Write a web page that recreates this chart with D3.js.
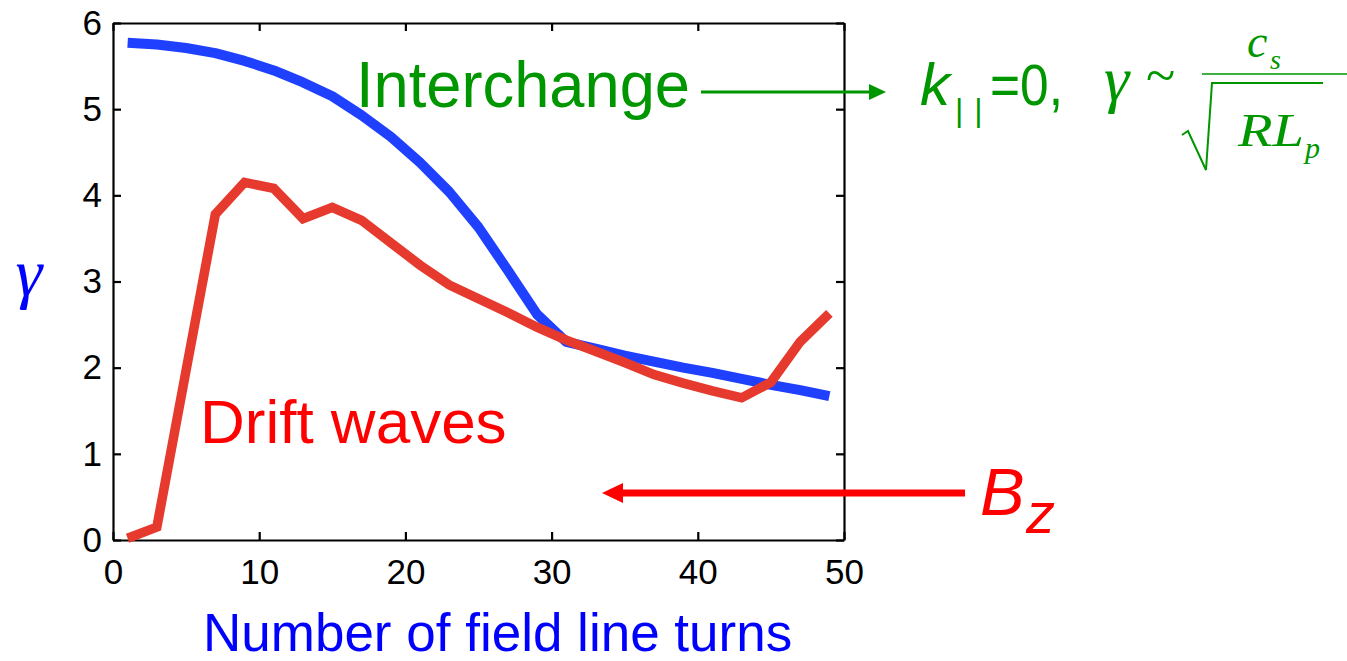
<!DOCTYPE html>
<html>
<head>
<meta charset="utf-8">
<script src="https://cdn.jsdelivr.net/npm/d3@7"></script>
<style>
  html, body { margin: 0; padding: 0; background: #ffffff; }
  svg { display: block; }
</style>
</head>
<body>
<svg id="chart" width="1347" height="661"></svg>
<script>
// ---- data ----
const turns = [1,3,5,7,9,11,13,15,17,19,21,23,25,27,29,31,33,35,37,39,41,43,45,47,49];
const interchangeGamma = [5.77,5.75,5.71,5.65,5.56,5.45,5.31,5.15,4.93,4.68,4.38,4.04,3.63,3.13,2.62,2.30,2.22,2.14,2.07,2.00,1.94,1.87,1.80,1.74,1.67];
const driftGamma = [0.02,0.15,1.97,3.78,4.15,4.08,3.73,3.86,3.71,3.45,3.19,2.96,2.80,2.64,2.47,2.32,2.19,2.06,1.92,1.82,1.73,1.65,1.83,2.30,2.63];
const xTicks = [0,10,20,30,40,50];
const yTicks = [0,1,2,3,4,5,6];

const svg = d3.select("#chart");
const x = d3.scaleLinear().domain([0,50]).range([113,844]);
const y = d3.scaleLinear().domain([0,6]).range([540,23]);

const sans = "'Liberation Sans', Arial, Helvetica, sans-serif";
const serif = "'Liberation Serif', 'Times New Roman', serif";
const green = "#009600";
const fmt = d3.format("d");

// ---- axes (box with inward ticks) ----
function styleAxis(g) {
  g.selectAll(".domain").attr("stroke", "#000").attr("stroke-width", 2.2);
  g.selectAll(".tick line").attr("stroke", "#000").attr("stroke-width", 2.2);
  g.selectAll(".tick text").attr("fill", "#000").style("font-family", sans).style("font-size", "35px");
}
svg.append("g").attr("transform", `translate(0,${y(0)})`)
  .call(d3.axisBottom(x).tickValues(xTicks).tickFormat(fmt).tickSizeInner(-8).tickSizeOuter(0).tickPadding(19))
  .call(styleAxis);
svg.append("g").attr("transform", `translate(0,${y(6)})`)
  .call(d3.axisTop(x).tickValues(xTicks).tickSizeInner(-8).tickSizeOuter(0).tickFormat(""))
  .call(styleAxis);
svg.append("g").attr("transform", `translate(${x(0)},0)`)
  .call(d3.axisLeft(y).tickValues(yTicks).tickFormat(fmt).tickSizeInner(-8).tickSizeOuter(0).tickPadding(11))
  .call(styleAxis);
svg.append("g").attr("transform", `translate(${x(50)},0)`)
  .call(d3.axisRight(y).tickValues(yTicks).tickSizeInner(-8).tickSizeOuter(0).tickFormat(""))
  .call(styleAxis);

// ---- lines ----
const line = (vals) => d3.line().x((d,i) => x(turns[i])).y(d => y(d))(vals);
svg.append("path").attr("d", line(interchangeGamma))
  .attr("fill", "none").attr("stroke", "#1f40ff").attr("stroke-width", 10)
  .attr("stroke-linejoin", "round");
svg.append("path").attr("d", line(driftGamma))
  .attr("fill", "none").attr("stroke", "#e53a2d").attr("stroke-width", 9.5)
  .attr("stroke-linejoin", "miter");

// ---- axis titles ----
svg.append("text").attr("x", 203).attr("y", 651)
  .style("font-family", sans).style("font-size", "53px").attr("fill", "#0000ff")
  .text("Number of field line turns");
svg.append("text").attr("x", 29).attr("y", 296).attr("text-anchor", "middle")
  .style("font-family", serif).style("font-style", "italic").style("font-size", "68px").attr("fill", "#0000ff")
  .text("γ");

// ---- annotations ----
svg.append("text").attr("x", 356).attr("y", 107)
  .attr("textLength", 334).attr("lengthAdjust", "spacingAndGlyphs")
  .style("font-family", sans).style("font-size", "64px").attr("fill", green)
  .text("Interchange");
svg.append("line").attr("x1", 701).attr("x2", 872).attr("y1", 92).attr("y2", 92)
  .attr("stroke", green).attr("stroke-width", 3);
svg.append("path").attr("d", "M886,92 L869,84 L869,100 Z").attr("fill", green);

svg.append("text").attr("x", 200).attr("y", 443)
  .style("font-family", sans).style("font-size", "62px").attr("fill", "#ff0000")
  .text("Drift waves");

svg.append("line").attr("x1", 965).attr("x2", 618).attr("y1", 493).attr("y2", 493)
  .attr("stroke", "#ff0000").attr("stroke-width", 7);
svg.append("path").attr("d", "M602,493 L623,483 L623,503 Z").attr("fill", "#ff0000");
svg.append("text").attr("x", 980).attr("y", 515)
  .style("font-family", sans).style("font-style", "italic").style("font-size", "67px").attr("fill", "#ff0000")
  .text("B");
svg.append("text").attr("x", 1026).attr("y", 533)
  .style("font-family", sans).style("font-style", "italic").style("font-size", "58px").attr("fill", "#ff0000")
  .text("z");

// formula: k|| = 0,  γ ~ c_s / sqrt(R L_p)
svg.append("text").attr("x", 920).attr("y", 105)
  .style("font-family", sans).style("font-style", "italic").style("font-size", "60px").attr("fill", green)
  .text("k");
svg.append("text").attr("x", 955).attr("y", 121)
  .style("font-family", sans).style("font-size", "32px").style("letter-spacing", "11px").attr("fill", green)
  .text("||");
svg.append("text").attr("x", 990).attr("y", 105)
  .attr("textLength", 73).attr("lengthAdjust", "spacingAndGlyphs")
  .style("font-family", sans).style("font-size", "58px").attr("fill", green)
  .text("=0,");
svg.append("text").attr("x", 1104).attr("y", 100)
  .style("font-family", serif).style("font-style", "italic").style("font-size", "64px").attr("fill", green)
  .text("γ");
svg.append("text").attr("x", 1146).attr("y", 94)
  .style("font-family", serif).style("font-size", "54px").attr("fill", green)
  .text("~");
svg.append("text").attr("x", 1247).attr("y", 57)
  .style("font-family", serif).style("font-style", "italic").style("font-size", "46px").attr("fill", green)
  .text("c");
svg.append("text").attr("x", 1270).attr("y", 69)
  .style("font-family", serif).style("font-style", "italic").style("font-size", "28px").attr("fill", green)
  .text("s");
svg.append("line").attr("x1", 1202).attr("x2", 1347).attr("y1", 74).attr("y2", 74)
  .attr("stroke", green).attr("stroke-width", 1.5);
svg.append("path").attr("d", "M1182,135 L1188,131 L1206,170 L1212,83 L1323,83")
  .attr("fill", "none").attr("stroke", green).attr("stroke-width", 2);
svg.append("text").attr("x", 1238).attr("y", 146)
  .attr("textLength", 66).attr("lengthAdjust", "spacingAndGlyphs")
  .style("font-family", serif).style("font-style", "italic").style("font-size", "46px").attr("fill", green)
  .text("RL");
svg.append("text").attr("x", 1305).attr("y", 158)
  .style("font-family", serif).style("font-style", "italic").style("font-size", "30px").attr("fill", green)
  .text("p");
</script>
</body>
</html>
